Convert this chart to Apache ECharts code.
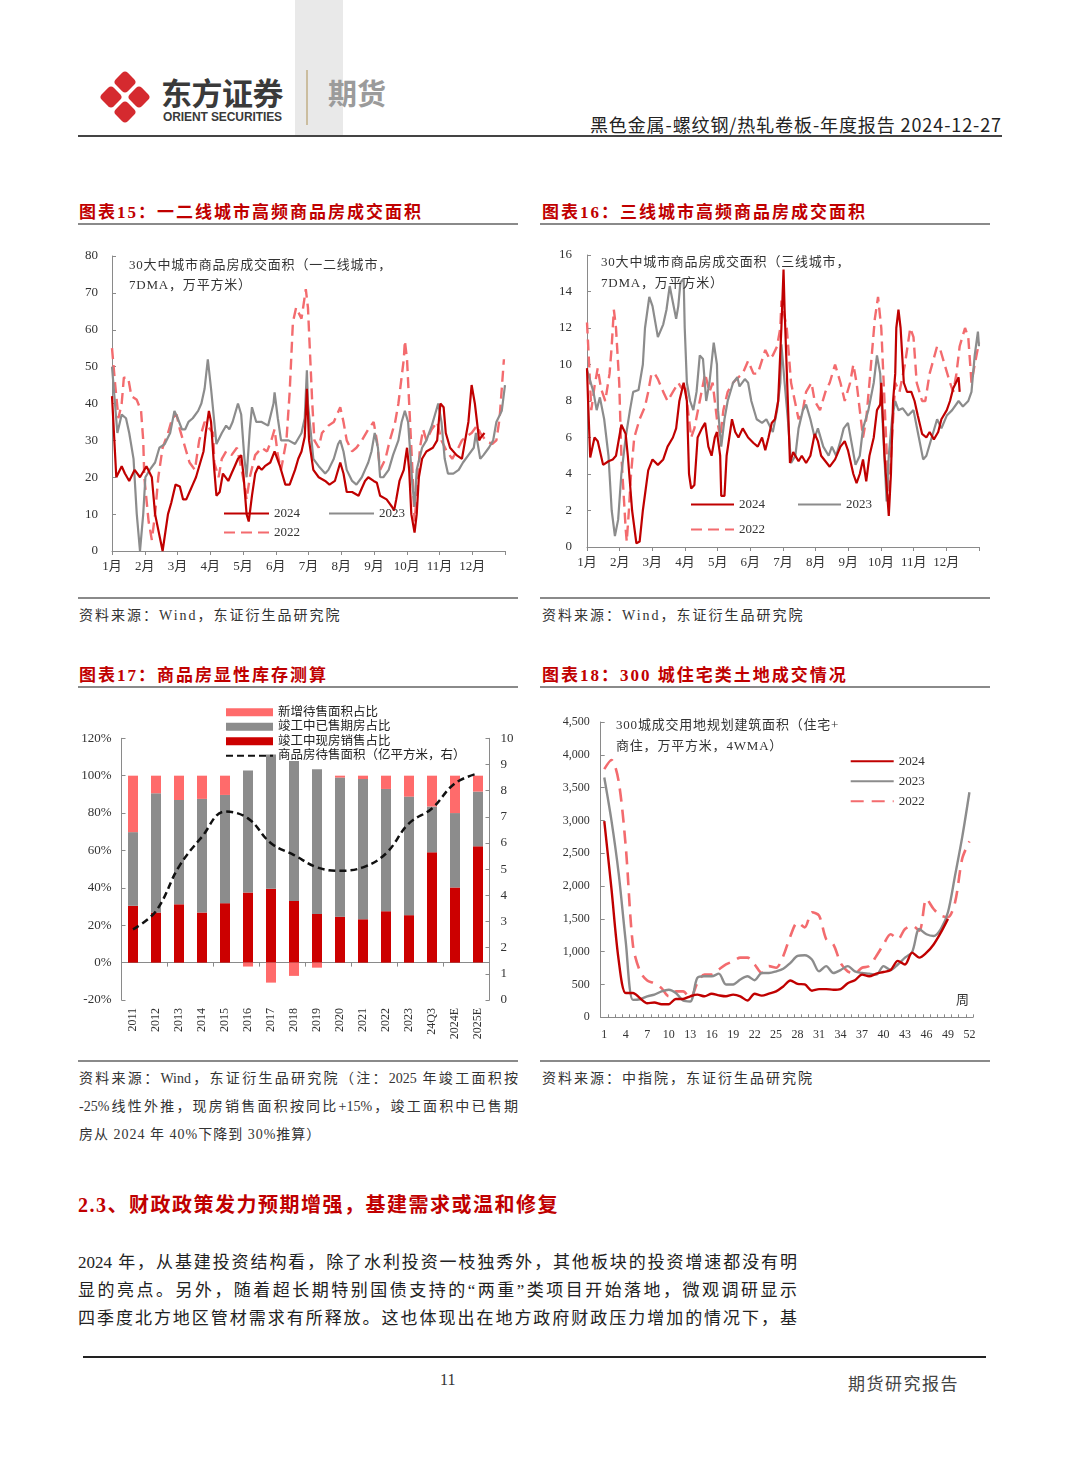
<!DOCTYPE html>
<html><head><meta charset="utf-8">
<script src="https://cdn.jsdelivr.net/npm/echarts@6/dist/echarts.min.js"></script>
<style>
body{margin:0;width:1080px;height:1466px;position:relative;background:#fff;overflow:hidden;font-family:"Liberation Serif","Noto Sans CJK SC",serif;color:#222}
.a{position:absolute;white-space:nowrap;z-index:2}
.chart{position:absolute;z-index:1}
.ttl{font-family:"Liberation Serif","Noto Sans CJK SC",sans-serif;font-weight:700;font-size:17px;color:#C00000;letter-spacing:2px}
.rule{position:absolute;background:#8a8a8a;height:1.5px}
.src{font-size:14px;letter-spacing:2px;color:#333}
.note{font-size:13px;letter-spacing:0.8px;color:#333}
.just{text-align:justify;text-align-last:justify}
</style></head><body>

<!-- header -->
<div style="position:absolute;left:295px;top:0;width:48px;height:137px;background:#e9e9e9"></div>
<svg style="position:absolute;left:95px;top:65px" width="62" height="64" viewBox="0 0 62 64">
 <g fill="#D52A2F">
  <rect x="-8.5" y="-8.5" width="17" height="17" rx="4" transform="translate(30,17) rotate(45)"/>
  <rect x="-8.5" y="-8.5" width="17" height="17" rx="4" transform="translate(30,47) rotate(45)"/>
  <rect x="-8.5" y="-8.5" width="17" height="17" rx="4" transform="translate(16,32) rotate(45)"/>
  <rect x="-8.5" y="-8.5" width="17" height="17" rx="4" transform="translate(44,32) rotate(45)"/>
 </g>
</svg>
<div class="a" style="left:161px;top:69px;font-family:'Noto Sans CJK SC';font-weight:700;font-size:31px;color:#3a3a3a;letter-spacing:-0.5px">东方证券</div>
<div class="a" style="left:163px;top:110px;font-family:'Liberation Sans',Arial;font-weight:700;font-size:12px;color:#3a3a3a;letter-spacing:-0.1px">ORIENT SECURITIES</div>
<div style="position:absolute;left:306px;top:70px;width:1.5px;height:55px;background:#cbbd9f"></div>
<div class="a" style="left:328px;top:71px;font-family:'Noto Sans CJK SC';font-weight:700;font-size:29px;color:#9b9b9b">期货</div>
<div class="a" style="right:78px;top:111px;font-family:'Noto Sans CJK SC';font-size:18px;color:#222;letter-spacing:0.9px">黑色金属-螺纹钢/热轧卷板-年度报告 2024-12-27</div>
<div style="position:absolute;left:78px;top:135px;width:924px;height:2px;background:#444"></div>

<!-- chart titles -->
<div class="a ttl" style="left:79px;top:198px">图表15：一二线城市高频商品房成交面积</div>
<div class="rule" style="left:78px;top:223px;width:440px"></div>
<div class="a ttl" style="left:542px;top:198px">图表16：三线城市高频商品房成交面积</div>
<div class="rule" style="left:540px;top:223px;width:450px"></div>
<div class="a ttl" style="left:79px;top:661px">图表17：商品房显性库存测算</div>
<div class="rule" style="left:78px;top:686px;width:440px"></div>
<div class="a ttl" style="left:542px;top:661px">图表18：300 城住宅类土地成交情况</div>
<div class="rule" style="left:540px;top:686px;width:450px"></div>

<!-- charts -->
<div id="c15" class="chart" style="left:75px;top:240px;width:450px;height:350px"></div>
<div id="c16" class="chart" style="left:540px;top:240px;width:450px;height:350px"></div>
<div id="c17" class="chart" style="left:75px;top:690px;width:450px;height:365px"></div>
<div id="c18" class="chart" style="left:540px;top:690px;width:450px;height:365px"></div>

<!-- in-chart notes -->
<div class="a note" style="left:129px;top:254px">30大中城市商品房成交面积（一二线城市，</div>
<div class="a note" style="left:129px;top:274px">7DMA，万平方米）</div>
<div class="a note" style="left:601px;top:251px">30大中城市商品房成交面积（三线城市，</div>
<div class="a note" style="left:601px;top:272px">7DMA，万平方米）</div>
<div class="a note" style="left:616px;top:714px">300城成交用地规划建筑面积（住宅+</div>
<div class="a note" style="left:616px;top:735px">商住，万平方米，4WMA）</div>
<div class="a note" style="left:956px;top:989px">周</div>

<!-- sources -->
<div class="rule" style="left:78px;top:597px;width:440px"></div>
<div class="a src" style="left:79px;top:604px">资料来源：Wind，东证衍生品研究院</div>
<div class="rule" style="left:540px;top:597px;width:450px"></div>
<div class="a src" style="left:542px;top:604px">资料来源：Wind，东证衍生品研究院</div>
<div class="rule" style="left:78px;top:1060px;width:440px"></div>
<div class="a src just" style="left:79px;top:1067px;width:439px;letter-spacing:0">资料来源：Wind，东证衍生品研究院（注：2025 年竣工面积按</div>
<div class="a src just" style="left:79px;top:1095px;width:439px;letter-spacing:0">-25%线性外推，现房销售面积按同比+15%，竣工面积中已售期</div>
<div class="a src" style="left:79px;top:1123px;letter-spacing:1px">房从 2024 年 40%下降到 30%推算）</div>
<div class="rule" style="left:540px;top:1060px;width:450px"></div>
<div class="a src" style="left:542px;top:1067px">资料来源：中指院，东证衍生品研究院</div>

<!-- body text -->
<div class="a" style="left:78px;top:1189px;font-family:'Liberation Serif','Noto Sans CJK SC';font-weight:700;font-size:20px;color:#C00000;letter-spacing:1.5px">2.3、财政政策发力预期增强，基建需求或温和修复</div>
<div class="a just" style="left:78px;top:1248px;width:719px;font-size:17px">2024 年，从基建投资结构看，除了水利投资一枝独秀外，其他板块的投资增速都没有明</div>
<div class="a just" style="left:78px;top:1276px;width:719px;font-size:17px">显的亮点。另外，随着超长期特别国债支持的“两重”类项目开始落地，微观调研显示</div>
<div class="a just" style="left:78px;top:1304px;width:719px;font-size:17px">四季度北方地区管材需求有所释放。这也体现出在地方政府财政压力增加的情况下，基</div>

<!-- footer -->
<div style="position:absolute;left:83px;top:1356px;width:903px;height:2px;background:#222"></div>
<div class="a" style="left:440px;top:1371px;font-size:16px;color:#333">11</div>
<div class="a" style="left:848px;top:1370px;font-family:'Noto Sans CJK SC';font-size:17px;color:#444;letter-spacing:1.5px">期货研究报告</div>

<script>
// ---------------- DATA ----------------
const MONTHS = ['1月','2月','3月','4月','5月','6月','7月','8月','9月','10月','11月','12月'];

// Chart 15: [day of year, 万平方米]
const c15_2024 = [[0,42],[4,20],[9,23],[12,21],[16,19],[21,22],[26,20],[32,23],[37,20],[40,10],[47,0],[52,10],[55,13],[59,18],[63,17.5],[66,14],[69,14],[72,16],[75,18],[78,20],[82,24],[85,27],[87,32],[90,38],[92,35],[95,22],[97,15],[100,16],[103,21],[108,19],[111,21],[114,23],[117,25],[120,26],[122,21],[125,10],[127,8],[130,15],[133,21],[136,23],[139,22],[142,23],[147,24],[151,27],[156,23],[161,18],[165,18],[170,22],[173,25],[176,27],[179,31],[181,44],[183,30],[187,22],[192,20],[198,19],[202,18],[207,19],[212,24],[215,21],[218,16],[223,16],[229,15],[232,17],[235,19],[238,20],[243,19],[246,18.5],[249,15],[255,14],[260,12],[262,11],[264,14],[267,19],[271,22],[274,28],[276,22],[278,10],[281,5],[283,10],[285,20],[288,25],[292,27],[298,28],[302,30],[305,40],[308,39],[310,32],[314,28],[320,26],[325,25],[328,30],[331,35],[334,45],[337,40],[341,30],[343,31],[346,32]];
const c15_2023 = [[0,50],[5,32],[9,37],[13,36],[16,32],[20,25],[23,10],[26,0],[29,10],[31,20],[35,22],[40,24],[44,28],[49,29],[54,32],[58,38],[61,36],[65,33],[68,33],[71,35],[75,36],[80,38],[83,40],[86,44],[89,52],[92,44],[97,29],[102,32],[106,34],[109,33],[112,35],[117,40],[120,37],[123,25],[125,20],[128,33],[130,39],[134,35],[139,35],[145,34],[150,40],[151,43],[154,36],[157,30],[164,30],[170,29],[176,32],[179,36],[181,49],[182,40],[187,25],[192,23],[198,21],[201,22],[206,25],[210,29],[212,30],[215,27],[218,22],[223,19],[227,18],[232,20],[235,22],[238,24],[241,27],[244,32],[247,28],[249,20],[252,20],[257,22],[261,26],[266,30],[269,35],[272,38],[275,35],[279,18],[281,12],[283,22],[288,28],[292,30],[297,34],[300,37],[303,40],[306,35],[309,25],[312,21],[317,21],[322,22],[326,24],[331,26],[336,28],[338,32],[342,25],[345,26],[350,28],[354,30],[357,35],[362,38],[365,45]];
const c15_2022 = [[0,55],[3,45],[6,36],[9,40],[11,47],[15,47],[18,42],[23,41],[27,38],[29,30],[30,20],[34,8],[37,3],[40,10],[43,20],[47,28],[52,32],[56,36],[60,37],[63,33],[68,28],[72,24],[77,22],[81,30],[86,35],[91,33],[94,32],[95,24],[99,20],[102,25],[106,27],[111,26],[116,28],[119,24],[123,18],[125,14],[128,20],[133,26],[139,28],[144,27],[148,30],[151,33],[154,26],[157,22],[162,30],[165,43],[168,62],[171,66],[176,63],[180,71],[182,66],[184,53],[186,40],[188,30],[192,28],[195,32],[201,34],[206,35],[212,39],[215,35],[218,30],[223,27],[227,28],[232,30],[238,33],[243,35],[246,30],[249,22],[254,25],[258,30],[263,35],[266,40],[271,52],[272,57],[274,52],[276,40],[279,22],[281,8],[283,15],[286,28],[289,33],[292,30],[297,33],[302,35],[306,30],[311,27],[316,25],[320,27],[325,30],[329,31],[334,32],[339,34],[342,32],[347,30],[353,29],[357,30],[360,36],[364,52]];

// Chart 16: [day of year, 万平方米]
const c16_2024 = [[0,9.8],[1,8],[3,4.9],[7,6],[10,5.8],[15,4.5],[20,4.7],[24,4.8],[27,5],[32,6.7],[36,6.2],[38,5],[42,2],[46,0.2],[49,0.3],[52,2],[57,4.2],[61,4.8],[66,4.5],[71,4.8],[75,5.5],[80,6],[83,6.5],[86,8],[90,9],[93,8],[95,4],[97,3.2],[100,3.4],[103,6],[107,6.5],[110,6.8],[113,5.5],[116,5],[119,6],[121,6.3],[124,5],[125,2.8],[128,2.8],[130,5],[135,7],[138,6.3],[141,6],[145,6.5],[150,6],[155,5.7],[159,5.5],[163,6],[166,5.3],[169,6],[172,6.8],[175,7],[178,8],[181,12],[183,15.2],[184,13],[187,8],[189,4.6],[192,5.2],[197,4.7],[200,5],[204,4.6],[208,5],[212,6.2],[215,5.8],[218,5],[222,4.7],[226,4.4],[231,4.8],[236,5.5],[240,5.8],[243,5.3],[248,4],[251,3.5],[254,4],[257,4.8],[260,3.6],[263,5],[267,6],[270,7.5],[273,7.8],[274,9],[277,5],[281,1.7],[283,4],[285,8],[287,9.5],[288,12],[290,13],[292,12],[295,9],[298,8.5],[302,8.5],[305,8],[308,7.2],[312,6.2],[316,6],[319,6.3],[323,5.9],[327,6.3],[330,7],[335,7.5],[338,8],[341,8.7],[346,9.3],[347,8.5]];
const c16_2023 = [[0,9.7],[2,9.3],[6,8.5],[9,7.5],[12,8.2],[16,7],[20,5],[23,2],[26,0.6],[29,1.5],[32,4],[36,6],[40,7.5],[43,8.5],[48,8.6],[52,10],[54,12],[58,13.7],[61,13.2],[66,11.5],[71,12.2],[74,13],[77,14.3],[80,13.4],[83,12.5],[85,13.2],[87,14.5],[90,14.7],[91,12],[93,9],[96,8],[99,7.5],[102,8.5],[105,10.5],[108,10.3],[111,8],[114,9],[118,11.2],[121,10],[122,7.5],[125,5.5],[128,7],[131,8],[136,9],[140,9.3],[142,8.8],[147,9.2],[150,9],[153,8],[158,7],[163,6.8],[167,7],[173,6.3],[177,7.5],[180,9],[181,11.1],[184,9],[187,7],[190,4.6],[194,5],[197,6.5],[201,7.5],[204,7.8],[208,7],[212,6],[215,6.5],[220,5.5],[225,5],[228,5.5],[232,5],[236,5.8],[239,6.5],[243,6.8],[250,4.5],[254,5],[257,6.5],[262,7.5],[267,9],[270,10.5],[273,9.5],[276,6],[279,2.5],[281,5],[284,7],[287,8],[290,7.5],[294,7.6],[299,7.2],[304,7.5],[309,6],[313,4.8],[316,5],[321,6],[326,7],[330,6.5],[335,7.2],[340,7.5],[346,8],[350,7.7],[355,8],[358,8.5],[361,10.5],[364,11.8],[365,11]];
const c16_2022 = [[0,12.3],[2,10],[4,7.5],[7,8.8],[10,9.8],[13,8.7],[17,8],[21,9.5],[23,11],[25,13],[27,12],[30,9],[32,5],[36,1],[37,0.3],[39,2],[41,4],[44,6],[49,7],[54,7.7],[57,8.5],[60,9.5],[63,9.5],[66,9.2],[71,8.5],[75,8],[80,8.5],[85,9],[88,8.7],[91,9],[94,7.5],[97,6],[100,6.5],[105,8],[110,9.5],[114,8.5],[117,9],[121,7],[124,6],[127,7.5],[131,8.5],[136,9],[141,9.3],[145,9.5],[150,10.2],[155,9.5],[159,9.5],[166,10.8],[170,10.3],[173,10.5],[177,11],[180,12],[181,13.5],[186,12],[190,9],[197,7],[201,7.5],[204,8.5],[209,9],[212,8],[217,7.5],[222,8.5],[226,9],[231,10],[236,9],[240,8],[245,9],[248,10],[251,9],[254,7.5],[257,6],[260,7],[263,9],[268,12.5],[271,13.7],[274,12],[277,8],[281,2.5],[284,6],[287,9],[291,8.5],[296,10],[301,12],[304,11.5],[307,9],[312,8],[315,8],[319,9.5],[326,11],[329,10.8],[333,10],[338,9],[341,8.5],[344,9.5],[347,11],[352,12],[355,11.5],[358,9],[361,10],[365,11.2]];

// Chart 17
const cats17  = ['2011','2012','2013','2014','2015','2016','2017','2018','2019','2020','2021','2022','2023','24Q3','2024E','2025E'];
const red17   = [30.4,26.8,31.2,26.8,31.8,37.5,39.5,33,26,24.6,23.2,27.5,25.4,59,40.2,62.2];
const gray17  = [39.4,63.8,55.8,60.8,57.9,65.3,71.9,74.8,77.4,74.4,75,65.4,63.4,24.5,39.8,29.3];
const new17   = [30.2,9.4,13,12.4,10.3,-2.1,-10.7,-7.1,-2.7,1,1.8,7.1,11.2,16.5,20,8.5];
const stock17 = [2.7,3.4,5.1,6.24,7.2,6.94,5.99,5.54,5.07,4.94,5.07,5.6,6.75,7.32,8.28,8.66];

// Chart 18
const weeks18 = [1,2,3,4,5,6,7,8,9,10,11,12,13,14,15,16,17,18,19,20,21,22,23,24,25,26,27,28,29,30,31,32,33,34,35,36,37,38,39,40,41,42,43,44,45,46,47,48,49,50,51,52];
const w18_2024 = [2990,1960,880,370,370,290,215,225,200,200,280,280,320,345,320,360,335,320,345,320,255,360,330,360,395,470,560,510,500,405,430,430,420,430,520,565,650,625,665,690,720,860,805,985,910,985,1110,1290,1500];
const w18_2023 = [3654,3000,2200,1150,265,275,320,345,395,420,370,255,240,600,625,625,665,500,500,575,625,565,675,675,700,740,830,935,945,880,700,780,675,720,780,700,675,665,650,780,720,805,910,995,1345,1265,1240,1345,1600,2165,2750,3430];
const w18_2022 = [3782,3920,3600,2600,1100,700,560,520,445,320,395,395,290,520,650,650,730,805,855,910,910,805,675,780,755,935,1240,1445,1370,1600,1550,1190,1110,830,700,675,755,780,935,1110,1265,1190,1345,1395,1320,1805,1650,1550,1525,1755,2420,2680];

// ---------------- STYLE ----------------
const FONT = '"Liberation Serif","Noto Sans CJK SC",serif';
const RED = '#C00000', GRAY = '#8C8C8C', PINK = '#F36B6E', AXIS = '#8a8a8a';
const lbl = {color:'#333', fontSize:13, fontFamily:FONT};
const HIDE_SYM = {opacity:0};

function lineSer(name, data, color, dashed, width, smooth){
  return {name, type:'line', data, symbol:'none', showSymbol:false, smooth:smooth||false,
    lineStyle:{color, width, type: dashed ? [11,6] : 'solid', cap:'butt'}, itemStyle:{color}};
}

function dayChart(id, c){
  const ch = echarts.init(document.getElementById(id));
  const lg = {itemWidth:c.lgW, itemHeight:14, padding:0, selectedMode:false, itemStyle:HIDE_SYM,
              textStyle:{fontSize:13, color:'#333', fontFamily:FONT}};
  ch.setOption({
    animation:false,
    textStyle:{fontFamily:FONT},
    grid:{left:c.left, top:c.top, width:c.width, height:c.height, outerBoundsMode:'none', containLabel:false},
    xAxis:{type:'value', min:0, max:365, interval:365/12,
      axisLine:{show:true, onZero:false, lineStyle:{color:AXIS, width:1}},
      axisTick:{show:true, length:4, lineStyle:{color:AXIS}},
      splitLine:{show:false},
      axisLabel:Object.assign({}, lbl, {margin:9, showMinLabel:true, showMaxLabel:true,
        formatter:v=>{const i=Math.round(v/(365/12)); return i<12 ? MONTHS[i] : '';}})},
    yAxis:{type:'value', min:0, max:c.yMax, interval:c.yInt,
      axisLine:{show:true, lineStyle:{color:AXIS, width:1}},
      axisTick:{show:true, inside:true, length:4, lineStyle:{color:AXIS}},
      splitLine:{show:false},
      axisLabel:Object.assign({}, lbl, {margin:c.lm})},
    legend:[
      Object.assign({data:['2024','2023'], left:c.lgLeft, top:c.lgTop1, itemGap:c.lgGap}, lg),
      Object.assign({data:['2022'], left:c.lgLeft, top:c.lgTop2}, lg)
    ],
    series:[
      lineSer('2022', c.s22, PINK, true, 2.4),
      lineSer('2023', c.s23, GRAY, false, 2.2),
      lineSer('2024', c.s24, RED, false, 2.2)
    ]
  });
}

dayChart('c15', {left:37, top:16, width:393, height:295, yMax:80, yInt:10, lm:14,
  lgLeft:148, lgTop1:267, lgTop2:286, lgW:45, lgGap:28,
  s24:c15_2024, s23:c15_2023, s22:c15_2022});

dayChart('c16', {left:47, top:15, width:392, height:292, yMax:16, yInt:2, lm:15,
  lgLeft:150, lgTop1:258, lgTop2:283, lgW:43, lgGap:32,
  s24:c16_2024, s23:c16_2023, s22:c16_2022});

// Chart 17
(function(){
  const ch = echarts.init(document.getElementById('c17'));
  ch.setOption({
    animation:false,
    textStyle:{fontFamily:FONT},
    grid:{left:46.5, top:48.3, width:368, height:261.7, outerBoundsMode:'none', containLabel:false},
    legend:{orient:'vertical', left:150, top:16, padding:0, itemWidth:47, itemHeight:8, itemGap:2, selectedMode:false,
      textStyle:{fontSize:12.5, color:'#222', lineHeight:12, fontFamily:FONT},
      data:[{name:'新增待售面积占比', icon:'rect'},{name:'竣工中已售期房占比', icon:'rect'},
            {name:'竣工中现房销售占比', icon:'rect'},{name:'商品房待售面积（亿平方米，右）', itemStyle:HIDE_SYM}]},
    xAxis:[
      {type:'category', data:cats17, position:'bottom',
       axisLine:{show:false, onZero:false}, axisTick:{show:false},
       axisLabel:{rotate:90, fontSize:12, margin:8, color:'#333', fontFamily:FONT, interval:0}},
      {type:'category', data:cats17, position:'bottom',
       axisLine:{show:true, onZero:true, lineStyle:{color:AXIS}},
       axisTick:{show:true, length:4, lineStyle:{color:AXIS}}, axisLabel:{show:false}}
    ],
    yAxis:[
      {type:'value', min:-20, max:120, interval:20, position:'left',
       axisLine:{show:true, lineStyle:{color:AXIS}}, axisTick:{show:true, inside:true, length:4, lineStyle:{color:AXIS}},
       splitLine:{show:false}, axisLabel:Object.assign({}, lbl, {margin:10, formatter:'{value}%'})},
      {type:'value', min:0, max:10, interval:1, position:'right',
       axisLine:{show:true, lineStyle:{color:AXIS}}, axisTick:{show:true, inside:true, length:4, lineStyle:{color:AXIS}},
       splitLine:{show:false}, axisLabel:Object.assign({}, lbl, {margin:11})}
    ],
    series:[
      {name:'竣工中现房销售占比', type:'bar', stack:'s', data:red17, barWidth:10, itemStyle:{color:'#CC0000'}},
      {name:'竣工中已售期房占比', type:'bar', stack:'s', data:gray17, barWidth:10, itemStyle:{color:'#8C8C8C'}},
      {name:'新增待售面积占比', type:'bar', stack:'s', data:new17, barWidth:10, itemStyle:{color:'#FF6B6B'}},
      {name:'商品房待售面积（亿平方米，右）', type:'line', yAxisIndex:1, data:stock17, smooth:0.4,
       symbol:'none', showSymbol:false, z:5,
       lineStyle:{color:'#111', width:2.5, type:[7,4]}, itemStyle:{color:'#111'}}
    ]
  });
})();

// Chart 18
(function(){
  const ch = echarts.init(document.getElementById('c18'));
  ch.setOption({
    animation:false,
    textStyle:{fontFamily:FONT},
    grid:{left:60.7, top:32, width:372.3, height:295.3, outerBoundsMode:'none', containLabel:false},
    legend:{orient:'vertical', left:309.7, top:64.7, padding:0, itemWidth:43, itemHeight:14, itemGap:7, selectedMode:false,
      itemStyle:HIDE_SYM, textStyle:{fontSize:13, color:'#333', fontFamily:FONT}, data:['2024','2023','2022']},
    xAxis:{type:'category', data:weeks18, boundaryGap:true,
      axisLine:{show:true, lineStyle:{color:AXIS}},
      axisTick:{show:true, inside:true, length:3, interval:0, lineStyle:{color:AXIS}},
      axisLabel:Object.assign({}, lbl, {fontSize:12, margin:12, interval:2})},
    yAxis:{type:'value', min:0, max:4500, interval:500,
      axisLine:{show:true, lineStyle:{color:AXIS}},
      axisTick:{show:true, inside:true, length:4, lineStyle:{color:AXIS}},
      splitLine:{show:false},
      axisLabel:Object.assign({}, lbl, {fontSize:12, margin:11, formatter:v=>v.toLocaleString('en-US')})},
    series:[
      Object.assign(lineSer('2022', w18_2022, PINK, true, 2.6, 0.3), {lineStyle:{color:PINK, width:2.6, type:[13,8]}}),
      lineSer('2023', w18_2023, GRAY, false, 2.4, 0.3),
      lineSer('2024', w18_2024, RED, false, 2.4, 0.3)
    ]
  });
})();
</script>
</body></html>
